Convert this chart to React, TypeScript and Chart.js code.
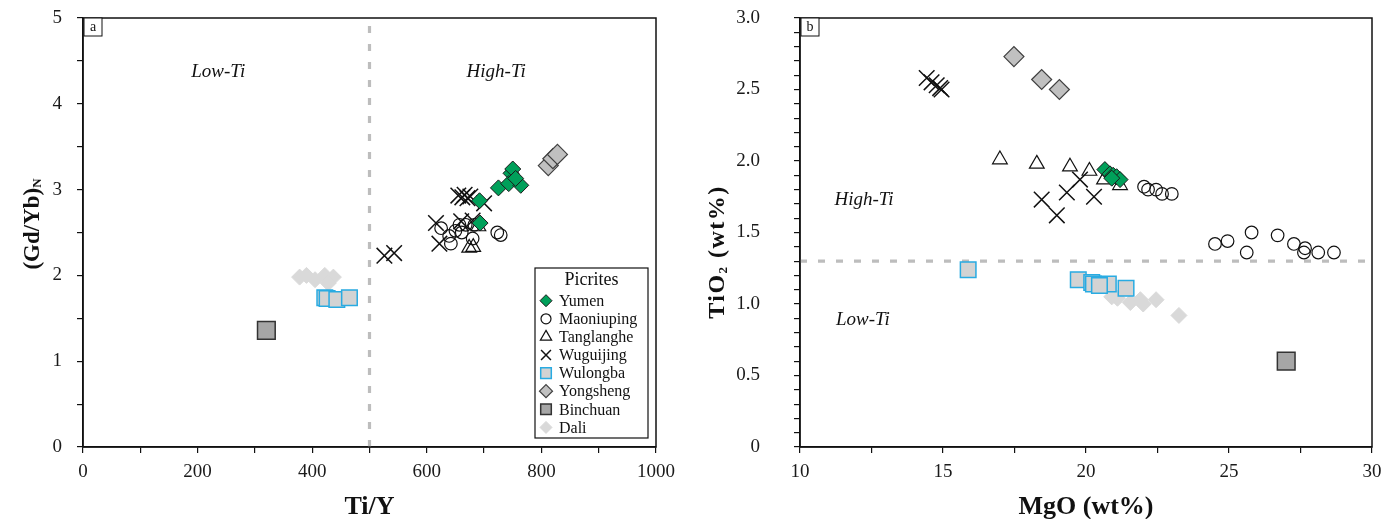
import React, { useEffect, useRef } from 'react';
import { Chart, registerables } from 'chart.js';

Chart.register(...registerables);

// ---------- Data ----------
const SERIES = ['Yumen', 'Maoniuping', 'Tanglanghe', 'Wuguijing', 'Wulongba', 'Yongsheng', 'Binchuan', 'Dali'];

// Panel a: Ti/Y vs (Gd/Yb)N
const A_YUMEN_X = [692, 693, 725, 747, 750, 743, 764, 755];
const A_YUMEN_Y = [2.87, 2.61, 3.02, 3.19, 3.24, 3.07, 3.05, 3.13];
const A_MAONIUPING_X = [625, 639, 642, 657, 668, 680, 683, 723, 729, 650, 661];
const A_MAONIUPING_Y = [2.55, 2.46, 2.37, 2.59, 2.59, 2.43, 2.59, 2.50, 2.47, 2.52, 2.50];
const A_TANGLANGHE_X = [674, 681, 690];
const A_TANGLANGHE_Y = [2.32, 2.33, 2.57];
const A_WUGUIJING_X = [526, 543, 616, 622, 655, 662, 666, 671, 676, 660, 680, 700];
const A_WUGUIJING_Y = [2.23, 2.26, 2.61, 2.37, 2.93, 2.91, 2.94, 2.90, 2.92, 2.63, 2.64, 2.84];
const A_WULONGBA_X = [422, 426, 443, 465];
const A_WULONGBA_Y = [1.74, 1.73, 1.72, 1.74];
const A_YONGSHENG_X = [812, 820, 828];
const A_YONGSHENG_Y = [3.28, 3.36, 3.41];
const A_BINCHUAN_X = [320];
const A_BINCHUAN_Y = [1.36];
const A_DALI_X = [378, 390, 405, 422, 437, 428];
const A_DALI_Y = [1.98, 2.0, 1.95, 2.0, 1.98, 1.91];

// Panel b: MgO vs TiO2
const B_YUMEN_X = [20.66, 20.84, 20.95, 21.07, 21.19, 20.9];
const B_YUMEN_Y = [1.94, 1.91, 1.9, 1.89, 1.87, 1.88];
const B_MAONIUPING_X = [22.03, 22.17, 22.45, 22.66, 23.0, 24.51, 24.95, 25.79, 25.62, 26.7, 27.27, 27.66, 27.62, 28.12, 28.67];
const B_MAONIUPING_Y = [1.82, 1.8, 1.8, 1.77, 1.77, 1.42, 1.44, 1.5, 1.36, 1.48, 1.42, 1.39, 1.36, 1.36, 1.36];
const B_TANGLANGHE_X = [16.99, 18.28, 19.44, 20.12, 20.63, 21.19];
const B_TANGLANGHE_Y = [2.01, 1.98, 1.96, 1.93, 1.87, 1.83];
const B_WUGUIJING_X = [14.43, 14.6, 14.78, 14.9, 14.95, 18.45, 18.98, 19.33, 19.79, 20.28];
const B_WUGUIJING_Y = [2.58, 2.55, 2.53, 2.51, 2.5, 1.73, 1.62, 1.78, 1.87, 1.75];
const B_WULONGBA_X = [15.88, 19.73, 20.2, 20.26, 20.78, 20.47, 21.4];
const B_WULONGBA_Y = [1.24, 1.17, 1.15, 1.14, 1.14, 1.13, 1.11];
const B_YONGSHENG_X = [17.48, 18.45, 19.07];
const B_YONGSHENG_Y = [2.73, 2.57, 2.5];
const B_BINCHUAN_X = [27.0];
const B_BINCHUAN_Y = [0.6];
const B_DALI_X = [20.9, 21.1, 21.55, 21.9, 22.0, 22.45, 23.25];
const B_DALI_Y = [1.05, 1.04, 1.01, 1.03, 1.0, 1.03, 0.92];

const TI_Y_DIVIDE = 500;
const TIO2_DIVIDE = 1.3;

// ---------- Styles ----------
const FONT = '"Liberation Serif", "Times New Roman", serif';

type Sty = { style: string; r: number; lr: number; bg: string; bd: string; bw: number };
const STYLES: Record<string, Sty> = {
  Yumen: { style: 'rectRot', r: 8, lr: 6, bg: '#00a05a', bd: '#1a1a1a', bw: 1 },
  Maoniuping: { style: 'circle', r: 6.3, lr: 5, bg: 'rgba(255,255,255,0)', bd: '#111', bw: 1.2 },
  Tanglanghe: { style: 'triangle', r: 8.5, lr: 6.5, bg: 'rgba(255,255,255,0)', bd: '#111', bw: 1.2 },
  Wuguijing: { style: 'crossRot', r: 11, lr: 7, bg: '#111', bd: '#111', bw: 1.5 },
  Wulongba: { style: 'rect', r: 11, lr: 7.5, bg: '#d3d3d3', bd: '#29abe2', bw: 1.5 },
  Yongsheng: { style: 'rectRot', r: 10, lr: 6.5, bg: '#c0c0c0', bd: '#404040', bw: 1.2 },
  Binchuan: { style: 'rect', r: 12.5, lr: 7.5, bg: '#a6a6a6', bd: '#333', bw: 1.5 },
  Dali: { style: 'rectRot', r: 8, lr: 6, bg: '#d9d9d9', bd: '#d9d9d9', bw: 1 },
};

function toPts(xs: number[], ys: number[]) {
  return xs.map((x, i) => ({ x, y: ys[i] }));
}

const PANEL_A: [number[], number[]][] = [
  [A_YUMEN_X, A_YUMEN_Y], [A_MAONIUPING_X, A_MAONIUPING_Y], [A_TANGLANGHE_X, A_TANGLANGHE_Y],
  [A_WUGUIJING_X, A_WUGUIJING_Y], [A_WULONGBA_X, A_WULONGBA_Y], [A_YONGSHENG_X, A_YONGSHENG_Y],
  [A_BINCHUAN_X, A_BINCHUAN_Y], [A_DALI_X, A_DALI_Y],
];
const PANEL_B: [number[], number[]][] = [
  [B_YUMEN_X, B_YUMEN_Y], [B_MAONIUPING_X, B_MAONIUPING_Y], [B_TANGLANGHE_X, B_TANGLANGHE_Y],
  [B_WUGUIJING_X, B_WUGUIJING_Y], [B_WULONGBA_X, B_WULONGBA_Y], [B_YONGSHENG_X, B_YONGSHENG_Y],
  [B_BINCHUAN_X, B_BINCHUAN_Y], [B_DALI_X, B_DALI_Y],
];

function datasets(panel: [number[], number[]][]) {
  return SERIES.map((name, i) => {
    const s = STYLES[name];
    return {
      label: name,
      data: toPts(panel[i][0], panel[i][1]),
      pointStyle: s.style as any,
      pointRadius: s.r,
      pointBackgroundColor: s.bg,
      pointBorderColor: s.bd,
      pointBorderWidth: s.bw,
      showLine: false,
    };
  });
}

function drawMarker(ctx: CanvasRenderingContext2D, s: Sty, x: number, y: number) {
  const r = s.lr;
  ctx.save();
  ctx.beginPath();
  ctx.lineWidth = s.bw;
  ctx.fillStyle = s.bg;
  ctx.strokeStyle = s.bd;
  switch (s.style) {
    case 'rectRot':
      ctx.moveTo(x - r, y); ctx.lineTo(x, y - r); ctx.lineTo(x + r, y); ctx.lineTo(x, y + r); ctx.closePath();
      ctx.fill(); ctx.stroke();
      break;
    case 'circle':
      ctx.arc(x, y, r, 0, Math.PI * 2);
      ctx.stroke();
      break;
    case 'triangle':
      ctx.moveTo(x, y - r); ctx.lineTo(x + r * 0.866, y + r * 0.5); ctx.lineTo(x - r * 0.866, y + r * 0.5); ctx.closePath();
      ctx.stroke();
      break;
    case 'crossRot': {
      const d = r * Math.SQRT1_2;
      ctx.moveTo(x - d, y - d); ctx.lineTo(x + d, y + d);
      ctx.moveTo(x + d, y - d); ctx.lineTo(x - d, y + d);
      ctx.stroke();
      break;
    }
    case 'rect': {
      const h = r * Math.SQRT1_2;
      ctx.rect(x - h, y - h, 2 * h, 2 * h);
      ctx.fill(); ctx.stroke();
      break;
    }
  }
  ctx.restore();
}

type Decor = {
  panelLabel: string;
  xTitle: string;
  yTitle: { main: string; sub: string; rest: string; cx: number; cy: number; size: number; spacing: number };
  divide: { axis: 'x' | 'y'; value: number };
  notes: { text: string; x: number; y: number }[];
  legend: boolean;
};

function makePlugin(d: Decor) {
  return {
    id: 'decor',
    beforeDatasetsDraw(chart: any) {
      const { ctx, chartArea: a, scales } = chart;
      ctx.save();
      ctx.strokeStyle = '#bdbdbd';
      ctx.lineWidth = 3.2;
      ctx.setLineDash([7, 11]);
      ctx.beginPath();
      if (d.divide.axis === 'x') {
        const px = scales.x.getPixelForValue(d.divide.value);
        ctx.moveTo(px, a.bottom); ctx.lineTo(px, a.top);
      } else {
        const py = scales.y.getPixelForValue(d.divide.value);
        ctx.moveTo(a.left, py); ctx.lineTo(a.right, py);
      }
      ctx.stroke();
      ctx.restore();
    },
    afterDraw(chart: any) {
      const { ctx, chartArea: a, scales } = chart;
      ctx.save();
      // frame
      ctx.strokeStyle = '#111';
      ctx.lineWidth = 1.5;
      ctx.strokeRect(a.left, a.top, a.right - a.left, a.bottom - a.top);
      // panel label
      ctx.lineWidth = 1;
      ctx.fillStyle = '#fff';
      ctx.fillRect(a.left + 1, a.top, 18, 18);
      ctx.strokeRect(a.left + 1, a.top, 18, 18);
      ctx.fillStyle = '#111';
      ctx.font = `14px ${FONT}`;
      ctx.textAlign = 'center';
      ctx.textBaseline = 'middle';
      ctx.fillText(d.panelLabel, a.left + 10, a.top + 9);
      // notes
      ctx.font = `italic 19px ${FONT}`;
      for (const n of d.notes) {
        ctx.fillText(n.text, scales.x.getPixelForValue(n.x), scales.y.getPixelForValue(n.y));
      }
      // x title
      ctx.font = `bold 26px ${FONT}`;
      ctx.fillText(d.xTitle, (a.left + a.right) / 2, 507);
      // y title
      const t = d.yTitle;
      ctx.translate(t.cx, t.cy);
      ctx.rotate(-Math.PI / 2);
      (ctx as any).letterSpacing = `${t.spacing}px`;
      const mainF = `bold ${t.size}px ${FONT}`;
      const subF = `bold ${Math.round(t.size * 0.55)}px ${FONT}`;
      ctx.font = mainF;
      const w1 = ctx.measureText(t.main).width;
      const w3 = ctx.measureText(t.rest).width;
      ctx.font = subF;
      const w2 = ctx.measureText(t.sub).width;
      const total = w1 + w2 + w3;
      let x0 = -total / 2;
      ctx.textAlign = 'left';
      ctx.textBaseline = 'alphabetic';
      ctx.font = mainF;
      ctx.fillText(t.main, x0, t.size * 0.33);
      x0 += w1;
      ctx.font = subF;
      ctx.fillText(t.sub, x0, t.size * 0.33 + t.size * 0.12);
      x0 += w2;
      ctx.font = mainF;
      ctx.fillText(t.rest, x0, t.size * 0.33);
      ctx.restore();

      if (d.legend) {
        ctx.save();
        const bx = 535, by = 268, bw = 113, bh = 170;
        ctx.fillStyle = '#fff';
        ctx.fillRect(bx, by, bw, bh);
        ctx.strokeStyle = '#111';
        ctx.lineWidth = 1.2;
        ctx.strokeRect(bx, by, bw, bh);
        ctx.fillStyle = '#111';
        ctx.textAlign = 'center';
        ctx.textBaseline = 'middle';
        ctx.font = `18px ${FONT}`;
        ctx.fillText('Picrites', bx + bw / 2, by + 12);
        ctx.font = `16px ${FONT}`;
        ctx.textAlign = 'left';
        SERIES.forEach((name, i) => {
          const y = 300.7 + i * 18.1;
          drawMarker(ctx, STYLES[name], 546, y);
          ctx.fillStyle = '#111';
          ctx.fillText(name, 559, y + 1);
        });
        ctx.restore();
      }
    },
  };
}

type AxisSpec = {
  min: number; max: number; step: number; label: (v: number) => string;
};

function makeOptions(x: AxisSpec, y: AxisSpec, yPad: number, leftW: number, rightPad: number) {
  const tickFont = { family: FONT, size: 19 };
  const grid = { drawOnChartArea: false, drawTicks: true, tickLength: 6, color: '#111', lineWidth: 1.2 };
  const border = { display: true, color: '#111', width: 1.5 };
  return {
    responsive: false,
    animation: false as const,
    events: [],
    layout: { padding: { top: 18, right: rightPad, left: 0, bottom: 0 } },
    plugins: { legend: { display: false }, tooltip: { enabled: false }, title: { display: false } },
    scales: {
      x: {
        type: 'linear' as const, position: 'bottom' as const, min: x.min, max: x.max,
        ticks: {
          stepSize: x.step, autoSkip: false, maxRotation: 0, minRotation: 0, maxTicksLimit: 1000,
          color: '#1a1a1a', font: tickFont, padding: 8,
          callback: (v: any) => x.label(Number(v)),
        },
        grid, border,
        afterFit: (s: any) => { s.height = 72; s.paddingLeft = 0; s.paddingRight = 0; },
      },
      y: {
        type: 'linear' as const, position: 'left' as const, min: y.min, max: y.max,
        ticks: {
          stepSize: y.step, autoSkip: false, maxTicksLimit: 1000,
          color: '#1a1a1a', font: tickFont, padding: yPad,
          callback: (v: any) => y.label(Number(v)),
        },
        grid, border,
        afterFit: (s: any) => { s.width = leftW; s.paddingTop = 0; s.paddingBottom = 0; },
      },
    },
  };
}

const isMult = (v: number, m: number) => Math.abs(v / m - Math.round(v / m)) < 1e-6;

function Panel({ config, left, width }: { config: () => any; left: number; width: number }) {
  const ref = useRef<HTMLCanvasElement>(null);
  useEffect(() => {
    const chart = new Chart(ref.current as HTMLCanvasElement, config());
    return () => chart.destroy();
  }, []);
  return (
    <div style={{ position: 'absolute', left, top: 0, width, height: 519 }}>
      <canvas ref={ref} width={width} height={519} style={{ display: 'block', width, height: 519 }} />
    </div>
  );
}

const configA = () => ({
  type: 'scatter' as const,
  data: { datasets: datasets(PANEL_A) },
  options: makeOptions(
    { min: 0, max: 1000, step: 100, label: (v) => (isMult(v, 200) ? String(v) : '') },
    { min: 0, max: 5, step: 0.5, label: (v) => (isMult(v, 1) ? String(v) : '') },
    15, 83, 44,
  ),
  plugins: [makePlugin({
    panelLabel: 'a',
    xTitle: 'Ti/Y',
    yTitle: { main: '(Gd/Yb)', sub: 'N', rest: '', cx: 31, cy: 224, size: 23, spacing: 0 },
    divide: { axis: 'x', value: TI_Y_DIVIDE },
    notes: [{ text: 'Low-Ti', x: 236, y: 4.37 }, { text: 'High-Ti', x: 721, y: 4.37 }],
    legend: true,
  })],
});

const configB = () => ({
  type: 'scatter' as const,
  data: { datasets: datasets(PANEL_B) },
  options: makeOptions(
    { min: 10, max: 30, step: 2.5, label: (v) => (isMult(v, 5) ? String(v) : '') },
    { min: 0, max: 3, step: 0.1, label: (v) => (isMult(v, 0.5) ? (Math.abs(v) < 1e-9 ? '0' : v.toFixed(1)) : '') },
    34, 100, 25,
  ),
  plugins: [makePlugin({
    panelLabel: 'b',
    xTitle: 'MgO (wt%)',
    yTitle: { main: 'TiO', sub: '2', rest: ' (wt%)', cx: 16, cy: 252, size: 24, spacing: 1.5 },
    divide: { axis: 'y', value: TIO2_DIVIDE },
    notes: [{ text: 'High-Ti', x: 12.24, y: 1.73 }, { text: 'Low-Ti', x: 12.2, y: 0.89 }],
    legend: false,
  })],
});

export default function App() {
  return (
    <div style={{ position: 'fixed', left: 0, top: 0, width: 1397, height: 519, background: '#fff', overflow: 'hidden' }}>
      <Panel config={configA} left={0} width={700} />
      <Panel config={configB} left={700} width={697} />
    </div>
  );
}
